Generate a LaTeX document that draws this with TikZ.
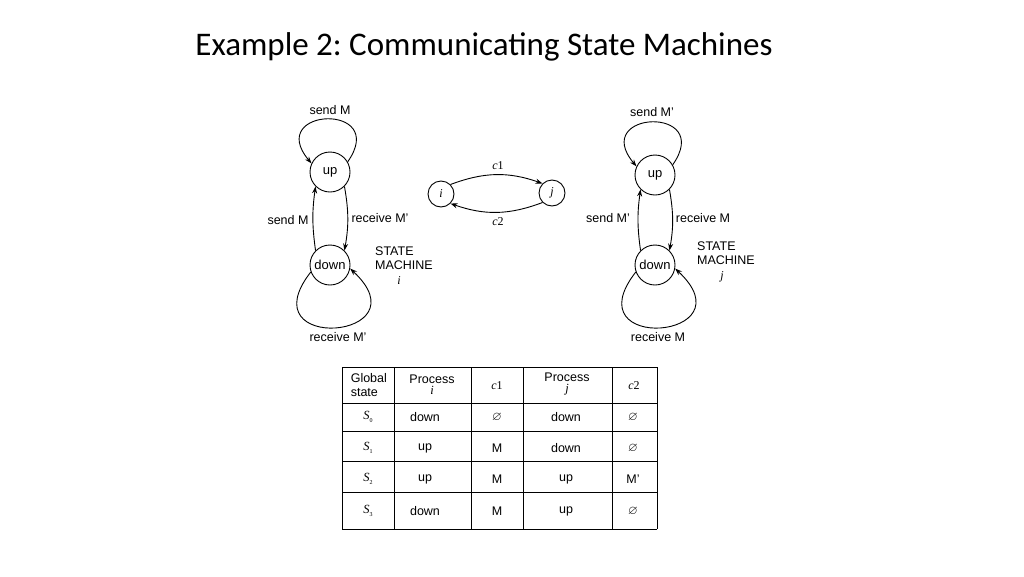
\documentclass[tikz,border=0pt]{standalone}
\usepackage{amssymb}
\usepackage{fontspec}
\setmainfont{Liberation Sans}
\newfontfamily\titlefont{Carlito}
\newfontfamily\timesfont{Liberation Serif}
\usetikzlibrary{arrows.meta}
\newcommand\mi[1]{{\timesfont\itshape #1}}
\newcommand\gs[1]{\mi{S}\raisebox{-2.5pt}{\timesfont\fontsize{6}{6}\selectfont #1}}
\frenchspacing

\begin{document}
\begin{tikzpicture}[x=1pt,y=1pt,line width=0.9pt,
    >={Stealth[length=7pt,width=5pt]},
    state/.style={draw,circle,minimum size=40pt,inner sep=0pt,font=\fontsize{13}{15}\selectfont},
    chan/.style={draw,circle,minimum size=26pt,inner sep=0pt,font=\fontsize{12}{14}\selectfont},
    lbl/.style={font=\fontsize{12.5}{14}\selectfont},
    sub/.style={font=\fontsize{12}{14}\timesfont\itshape},
    cell/.style={font=\fontsize{12.5}{14}\selectfont,align=center}]
                \useasboundingbox (0,0) rectangle (1024,-576);
                \node[font=\fontsize{33}{38}\titlefont] (title) at (484,-47) {Example 2: Communicating State Machines};

                \node[state] (upi) at (330,-172) {up};
                \node[state] (downi) at (330,-265) {down};
                \draw[->] (upi.30) to[out=55,in=130,min distance=73pt] (upi.155);
                \draw[->] (downi.200) to[out=232,in=-43,min distance=104pt] (downi.-10);
                \draw[->] (upi.-45) to[bend left=10] (downi.45);
                \draw[->] (downi.135) to[bend left=8] (upi.-135);
                \node[lbl] (li1) at (330,-110) {send M};
                \node[lbl] (li2) at (288,-220) {send M};
                \node[lbl] (li3) at (380,-218) {receive M'};
                \node[lbl] (li4) at (338,-337) {receive M'};
                \node[lbl,align=left] (smi) at (404,-258) {STATE\\MACHINE};
                \node[sub] (smi2) at (399,-281) {i};

                \node[state] (upj) at (655,-175) {up};
                \node[state] (downj) at (655,-265) {down};
                \draw[->] (upj.30) to[out=55,in=130,min distance=73pt] (upj.155);
                \draw[->] (downj.200) to[out=232,in=-43,min distance=104pt] (downj.-10);
                \draw[->] (upj.-45) to[bend left=10] (downj.45);
                \draw[->] (downj.135) to[bend left=8] (upj.-135);
                \node[lbl] (lj1) at (652,-112) {send M'};
                \node[lbl] (lj2) at (608,-218) {send M'};
                \node[lbl] (lj3) at (703,-218) {receive M};
                \node[lbl] (lj4) at (658,-337) {receive M};
                \node[lbl,align=left] (smj) at (726,-253) {STATE\\MACHINE};
                \node[sub] (smj2) at (722,-277) {j};

                \node[chan] (ci) at (441,-194) {\mi{i}};
                \node[chan] (cj) at (552,-193) {\mi{j}};
                \draw[->] (ci.45) to[bend left=20] (cj.135);
                \draw[->] (cj.-135) to[bend left=20] (ci.-45);
                \node[sub,font=\fontsize{12}{14}\timesfont] (c1) at (498,-166) {\textit{c}1};
                \node[sub,font=\fontsize{12}{14}\timesfont] (c2) at (498,-222) {\textit{c}2};

                \foreach \x in {342,394,471,523,612,657}
                    \draw (\x,-367) -- (\x,-529);
                \foreach \y in {367,403,431,461,492,529}
                    \draw (342,-\y) -- (657,-\y);

                \node[cell,align=left,anchor=west] (hgs) at (347,-385) {Global\\state};
                \node[cell] (hpi) at (432,-385) {Process\\[-3pt]\mi{i}};
                \node[cell,font=\fontsize{12}{14}\timesfont] (hc1) at (497,-386) {\textit{c}1};
                \node[cell] (hpj) at (567,-384) {Process\\[-3pt]\mi{j}};
                \node[cell,font=\fontsize{12}{14}\timesfont] (hc2) at (634,-386) {\textit{c}2};

                \foreach \r/\y/\p/\a/\q/\b in {0/417/down/$\varnothing$/down/$\varnothing$,
                    1/448/up/M/down/$\varnothing$,2/479/up/M/up/M',3/511/down/M/up/$\varnothing$}
                {
                    \node[cell] (s\r) at (368,-\y) {\gs{\r}};
                    \node[cell] (p\r) at (425,-\y) {\p};
                    \node[cell] (a\r) at (497,-\y) {\a};
                    \node[cell] (q\r) at (566,-\y) {\q};
                    \node[cell] (b\r) at (633,-\y) {\b};
                }
            \end{tikzpicture}
\end{document}
